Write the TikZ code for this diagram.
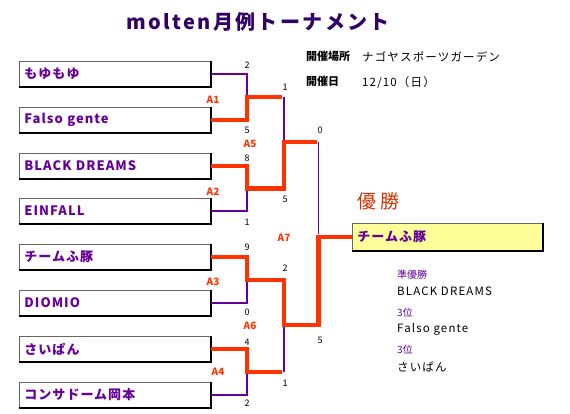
\documentclass[tikz,border=0pt]{standalone}
\usepackage{fontspec}
\setmainfont{Noto Sans CJK JP}
\usepackage{xcolor}
\usepackage{tikz}
\usetikzlibrary{positioning,calc}
\definecolor{tpurple}{RGB}{102,0,153}
\definecolor{ttitle}{RGB}{51,0,102}
\definecolor{tred}{RGB}{255,51,0}
\definecolor{tdark}{RGB}{204,51,0}
\definecolor{tyellow}{RGB}{255,255,153}
\tikzset{
  team/.style   ={rectangle, draw=black!60, line width=0.8pt, fill=white,
                  anchor=west, minimum height=25pt, text width=181pt,
                  inner xsep=5pt, align=left, text=tpurple,
                  font=\fontsize{13}{15}\selectfont\bfseries\addfontfeatures{LetterSpace=8}},
  champbox/.style={team, fill=tyellow, text width=180pt, minimum height=27pt},
  boxedge/.style={draw=black, line width=2pt},
  lose/.style   ={draw=tpurple, line width=1.5pt},
  win/.style    ={draw=tred, line width=4.5pt, line join=miter},
  score/.style  ={font=\fontsize{9}{10}\selectfont, text=black, inner sep=0pt},
  game/.style   ={font=\fontsize{10}{12}\selectfont\bfseries, text=tred, inner sep=0pt},
  info/.style   ={font=\fontsize{11.5}{13}\selectfont\addfontfeatures{LetterSpace=10},
                  anchor=west, inner sep=0pt},
  infohead/.style={font=\fontsize{11}{13}\selectfont\bfseries, anchor=west, inner sep=0pt},
  rank/.style   ={font=\fontsize{10}{12}\selectfont, text=tpurple, anchor=west, inner sep=0pt}
}
\begin{document}
\begin{tikzpicture}[x=1pt, y=-1pt]
\useasboundingbox (0,0) rectangle (570,414);
% title and header
\node[text=ttitle, font=\fontsize{20}{24}\selectfont\bfseries\addfontfeatures{LetterSpace=12}]
  (title) at (258,22) {molten月例トーナメント};
\node[infohead] (placeh) at (306,56) {開催場所};
\node[info] (place) at (362,57) {ナゴヤスポーツガーデン};
\node[infohead] (dateh) at (306,81) {開催日};
\node[info] (date) at (362,83) {12/10（日）};
% teams
\node[team] (t1) at (19,74)  {もゆもゆ};
\node[team] (t2) at (19,120) {Falso gente};
\node[team] (t3) at (19,166) {BLACK DREAMS};
\node[team] (t4) at (19,211) {EINFALL};
\node[team] (t5) at (19,257) {チームふ豚};
\node[team] (t6) at (19,303) {DIOMIO};
\node[team] (t7) at (19,349) {さいぱん};
\node[team] (t8) at (19,395) {コンサドーム岡本};
\node[champbox] (champ) at (352,237) {チームふ豚};
\foreach \n in {t1,t2,t3,t4,t5,t6,t7,t8,champ}
  \draw[boxedge] (\n.north east) -- (\n.south east) -- (\n.south west);
% junctions
\coordinate (a1) at (247,97);
\coordinate (a2) at (247,188.5);
\coordinate (a3) at (247,280);
\coordinate (a4) at (247,372);
\coordinate (a5) at (284,142);
\coordinate (a6) at (284,325);
\coordinate (a7) at (318.5,234);
% losing lines
\draw[lose] (t1.east) -| (a1);
\draw[lose] (t4.east) -| (a2);
\draw[lose] (t6.east) -| (a3);
\draw[lose] (t8.east) -| (a4);
\draw[lose] (a1 -| a5) -- (a5);
\draw[lose] (a4 -| a6) -- (a6);
\draw[lose] (a5 -| a7) -- (a7);
% winning lines
\draw[win] (t2.east) -| (a1) -- ($(a1 -| a5)+(-2,0)$);
\draw[win] (t3.east) -| (a2) -- (a2 -| a5) -- (a5) -- ($(a5 -| a7)+(-2,0)$);
\draw[win] (t5.east) -| (a3) -- (a3 -| a6) -- (a6) -- (a6 -| a7) -- (a7 |- champ.west) -- (champ.west);
\draw[win] (t7.east) -| (a4) -- ($(a4 -| a6)+(-2,0)$);
% scores
\node[score] at (247,65)  {2};
\node[score] at (247,130) {5};
\node[score] at (247,158) {8};
\node[score] at (247,222) {1};
\node[score] at (247,247) {9};
\node[score] at (247,312) {0};
\node[score] at (247,342) {4};
\node[score] at (247,403) {2};
\node[score] at (285,87)  {1};
\node[score] at (285,199) {5};
\node[score] at (285,268) {2};
\node[score] at (285,383) {1};
\node[score] at (320,130) {0};
\node[score] at (320,340) {5};
% game labels
\node[game] at (213,100) {A1};
\node[game] at (213,192) {A2};
\node[game] at (213,282) {A3};
\node[game] at (218,372) {A4};
\node[game] at (250,144) {A5};
\node[game] at (250,326) {A6};
\node[game] at (284,238) {A7};
% results
\node[text=tdark, font=\fontsize{19}{22}\selectfont, anchor=west, inner sep=0pt]
  (win) at (357,201) {優 勝};
\node[rank] (r2h) at (397,275) {準優勝};
\node[info] (r2) at (397,291) {BLACK DREAMS};
\node[rank] (r3h) at (397,313) {3位};
\node[info] (r3) at (397,329) {Falso gente};
\node[rank] (r4h) at (397,350) {3位};
\node[info] (r4) at (397,367) {さいぱん};
\end{tikzpicture}
\end{document}
